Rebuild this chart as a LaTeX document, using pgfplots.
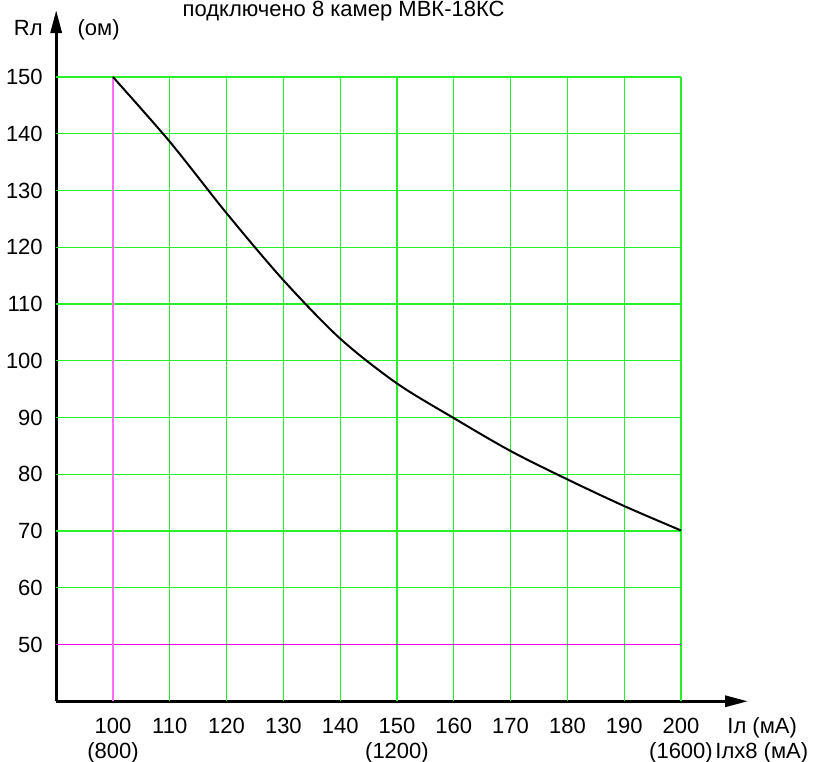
\documentclass[border=0pt]{standalone}
\usepackage{fontspec}
\setmainfont{Liberation Sans}
\usepackage{pgfplots}
\pgfplotsset{compat=1.18}
\usetikzlibrary{arrows.meta}

\definecolor{gridgreen}{RGB}{40,240,40}
\definecolor{gridpink}{RGB}{255,110,255}
\definecolor{gridmag}{RGB}{240,0,240}

\begin{document}
\begin{tikzpicture}[font=\fontsize{11}{12.5}\selectfont]
  \begin{axis}[
    x=2.84pt, y=2.8375pt,
    xmin=90, xmax=211.8, ymin=40, ymax=161.8,
    axis lines=left,
    axis line style={line width=1.6pt,-{Triangle[length=11.5pt,width=5.5pt]}},
    xtick={100,110,...,200},
    ytick={50,60,...,150},
    major tick length=0pt,
    xticklabels={{100\\(800)},110,120,130,140,{150\\(1200)},160,170,180,190,{200\\(1600)}},
    xticklabel style={align=center,anchor=north,yshift=-5pt},
    yticklabel style={anchor=east,xshift=-3.2pt},
    ticklabel style={font=\fontsize{11}{12.5}\selectfont},
    /pgf/number format/assume math mode=true,
    unbounded coords=jump,
    clip=false]

    %grid, horizontal
    \addplot[color=gridgreen,line width=0.6pt] coordinates {
      (90,60) (200,60) (nan,nan)
      (90,70) (200,70) (nan,nan)
      (90,80) (200,80) (nan,nan)
      (90,90) (200,90) (nan,nan)
      (90,100) (200,100) (nan,nan)
      (90,110) (200,110) (nan,nan)
      (90,120) (200,120) (nan,nan)
      (90,130) (200,130) (nan,nan)
      (90,140) (200,140) (nan,nan)
      (90,150) (200,150)
    };
    %grid, vertical
    \addplot[color=gridgreen,line width=0.6pt] coordinates {
      (110,40) (110,150) (nan,nan)
      (120,40) (120,150) (nan,nan)
      (130,40) (130,150) (nan,nan)
      (140,40) (140,150) (nan,nan)
      (150,40) (150,150) (nan,nan)
      (160,40) (160,150) (nan,nan)
      (170,40) (170,150) (nan,nan)
      (180,40) (180,150) (nan,nan)
      (190,40) (190,150) (nan,nan)
      (200,40) (200,150)
    };
    \addplot[color=gridmag,line width=0.5pt] coordinates {(90,50) (200,50)};
    \addplot[color=gridpink,line width=0.6pt] coordinates {(100,40) (100,150)};

    %R vs I
    \addplot[color=black,line width=1pt,smooth] coordinates {
      (100,150)
      (110,138.6)
      (120,126.0)
      (130,114.2)
      (140,103.9)
      (150,96.0)
      (160,89.9)
      (170,84.1)
      (180,79.1)
      (190,74.4)
      (200,70.1)
    };

    \node[anchor=base east,inner sep=0pt] at (axis cs:87.7,157.4) {Rл};
    \node[anchor=base west,inner sep=0pt] at (axis cs:93.7,157.4) {(ом)};
    \node[anchor=base west,inner sep=0pt] at (axis cs:208.1,34.4) {Iл (мА)};
    \node[anchor=base west,inner sep=0pt] at (axis cs:206.0,30.0) {Iлx8 (мА)};
    \node[anchor=base,inner sep=0pt] at (axis cs:140.6,160.6) {подключено 8 камер МВК-18КС};

    \coordinate (bl) at (axis cs:80.11,29.30);
    \coordinate (tr) at (axis cs:224.65,163.57);
  \end{axis}
  \pgfresetboundingbox
  \useasboundingbox (bl) rectangle (tr);
\end{tikzpicture}
\end{document}
